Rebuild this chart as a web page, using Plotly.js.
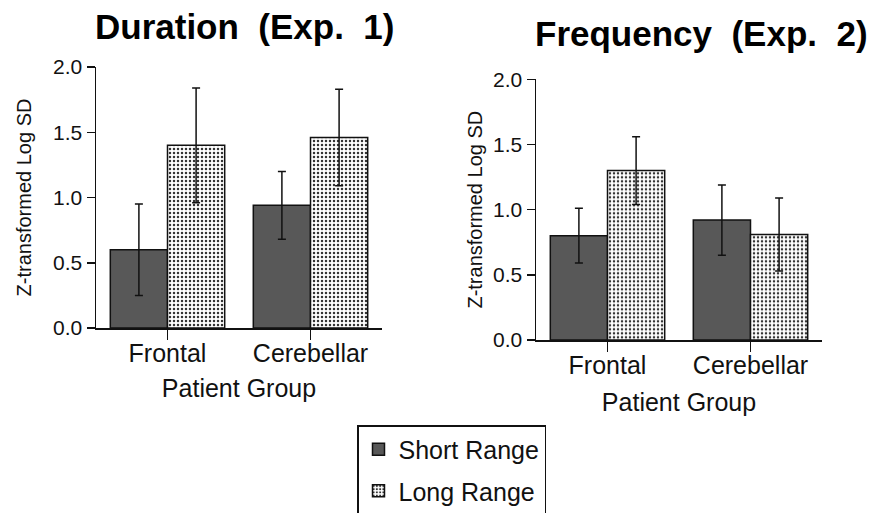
<!DOCTYPE html>
<html>
<head>
<meta charset="utf-8">
<script src="https://cdn.plot.ly/plotly-3.0.1.min.js"></script>
<style>html,body{margin:0;padding:0;background:#fff;}#chart{width:870px;height:513px;}</style>
</head>
<body>
<div id="chart"></div>
<script>
// Data
var groups = ["Frontal", "Cerebellar"];
var seriesNames = ["Short Range", "Long Range"];
var durShort = [0.60, 0.94];
var durShortErr = [0.35, 0.26];
var durLong = [1.40, 1.46];
var durLongErr = [0.44, 0.37];
var freqShort = [0.80, 0.92];
var freqShortErr = [0.21, 0.27];
var freqLong = [1.30, 0.81];
var freqLongErr = [0.26, 0.28];
var yTicks = [0, 0.5, 1.0, 1.5, 2.0];
var yTickText = ["0.0", "0.5", "1.0", "1.5", "2.0"];
var titles = ["Duration\u00a0\u00a0(Exp.\u00a0\u00a01)", "Frequency\u00a0\u00a0(Exp.\u00a0\u00a02)"];
var yTitle = "Z-transformed Log SD";
var xTitle = "Patient Group";

var FONT = "Liberation Sans, Arial, Helvetica, sans-serif";
var shortMarker = {color: "#585858", line: {color: "#111", width: 1.5}};
var longMarker = {color: "#ffffff", line: {color: "#111", width: 1.5},
  pattern: {shape: ".", fgcolor: "#333333", bgcolor: "#ffffff", size: 4, solidity: 0.3}};
function err(a){ return {type: "data", array: a, visible: true, color: "#111", thickness: 1.5, width: 4}; }

var traces = [
  {type: "bar", x: groups, y: durShort, error_y: err(durShortErr), name: seriesNames[0], marker: shortMarker,
   xaxis: "x", yaxis: "y", legendgroup: "s", showlegend: true},
  {type: "bar", x: groups, y: durLong, error_y: err(durLongErr), name: seriesNames[1], marker: longMarker,
   xaxis: "x", yaxis: "y", legendgroup: "l", showlegend: true},
  {type: "bar", x: groups, y: freqShort, error_y: err(freqShortErr), name: seriesNames[0], marker: shortMarker,
   xaxis: "x2", yaxis: "y2", legendgroup: "s", showlegend: false},
  {type: "bar", x: groups, y: freqLong, error_y: err(freqLongErr), name: seriesNames[1], marker: longMarker,
   xaxis: "x2", yaxis: "y2", legendgroup: "l", showlegend: false}
];

function xax(dom, anchor, standoff){
  return {domain: dom, anchor: anchor, type: "category", range: [-0.5, 1.5], showline: true, linecolor: "#111", linewidth: 1.5,
    ticks: "outside", ticklen: 10, tickwidth: 1.5, tickcolor: "#111", showgrid: false, zeroline: false,
    ticklabelstandoff: -8,
    tickfont: {family: FONT, size: 25, color: "#111"}, fixedrange: true,
    title: {text: xTitle, font: {family: FONT, size: 25, color: "#111"}, standoff: standoff}};
}
function yax(dom, anchor, standoff){
  return {domain: dom, anchor: anchor, range: [0, 2], showline: true, linecolor: "#111", linewidth: 1.5,
    ticks: "outside", ticklen: 8, tickwidth: 1.5, tickcolor: "#111", showgrid: false, zeroline: false,
    tickvals: yTicks, ticktext: yTickText, tickfont: {family: FONT, size: 21, color: "#111"}, fixedrange: true,
    title: {text: yTitle, font: {family: FONT, size: 20, color: "#111"}, standoff: standoff}};
}

var layout = {
  width: 870, height: 513,
  margin: {l: 0, r: 0, t: 0, b: 0, autoexpand: false},
  paper_bgcolor: "#fff", plot_bgcolor: "rgba(0,0,0,0)",
  barmode: "group", bargap: 0.2, bargroupgap: 0,
  xaxis: xax([96/870, 382/870], "y", 14),
  yaxis: yax([1 - 328/513, 1 - 67/513], "x", 16),
  xaxis2: xax([536/870, 822/870], "y2", 16),
  yaxis2: yax([1 - 340/513, 1 - 79.3/513], "x2", 5),
  showlegend: true,
  legend: {x: 357/870, y: 1 - 425/513, xanchor: "left", yanchor: "top",
    bordercolor: "#111", borderwidth: 1.5, bgcolor: "#fff",
    font: {family: FONT, size: 25, color: "#111"}, traceorder: "grouped", tracegroupgap: 6,
    itemwidth: 30},
  annotations: [
    {text: "<b>" + titles[0] + "</b>", xref: "paper", yref: "paper", x: 244/870, y: 1 - 26/513,
     xanchor: "center", yanchor: "middle", showarrow: false, font: {family: FONT, size: 35, color: "#000"}},
    {text: "<b>" + titles[1] + "</b>", xref: "paper", yref: "paper", x: 701/870, y: 1 - 33/513,
     xanchor: "center", yanchor: "middle", showarrow: false, font: {family: FONT, size: 35, color: "#000"}}
  ]
};

Plotly.newPlot("chart", traces, layout, {staticPlot: true, displayModeBar: false});
</script>
</body>
</html>
